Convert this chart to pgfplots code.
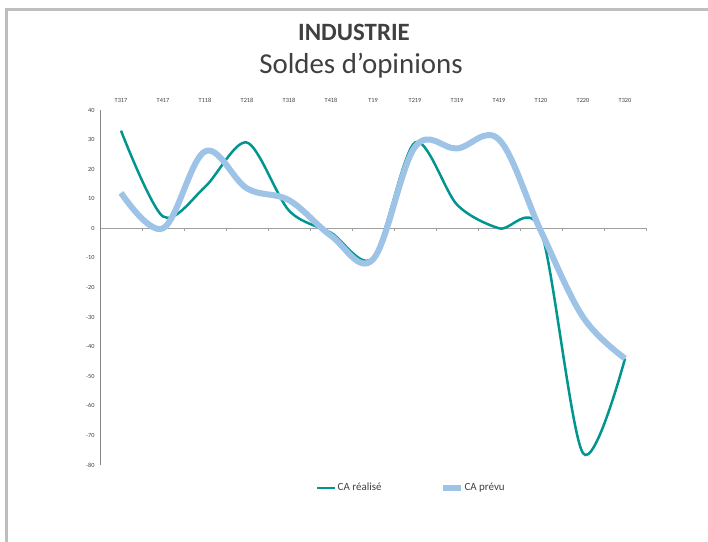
\documentclass[border=0pt]{standalone}
\usepackage{fontspec}
\setmainfont{Carlito}
\usepackage{pgfplots}
\pgfplotsset{compat=1.18}
\definecolor{tealc}{RGB}{0,150,143}
\definecolor{lblue}{RGB}{157,195,230}
\definecolor{txt}{RGB}{64,64,64}
\definecolor{axgray}{RGB}{134,134,134}
\definecolor{zgray}{RGB}{160,160,160}
\definecolor{frame}{RGB}{190,190,190}
\begin{document}
\begin{tikzpicture}[x=1bp,y=1bp]
\path[use as bounding box] (0,0) rectangle (708,542);
\fill[white] (0,0) rectangle (708,542);
\draw[line width=3bp, frame] (6,-5) -- (6,532) -- (713,532);
\node[font=\bfseries\fontsize{25}{30}\selectfont, text=txt] at (354,510) {INDUSTRIE};
\node[font=\fontsize{29}{34}\selectfont, text=txt] at (361,476) {Soldes d’opinions};

\begin{axis}[at={(100bp,77bp)}, anchor=south west, scale only axis,
  width=546bp, height=355bp,
  xmin=-0.5, xmax=12.5, ymin=-80, ymax=40,
  axis x line=middle, axis y line=left,
  axis line style={-},
  x axis line style={zgray, line width=0.8bp},
  y axis line style={axgray, line width=0.8bp},
  xtick={0.5,1.5,...,12.5}, xticklabels={},
  xtick style={zgray, line width=0.6bp},
  tick align=outside, major tick length=3bp,
  ytick={-80,-70,...,40},
  ytick style={draw=none},
  yticklabel style={font=\fontsize{6.3}{7}\selectfont, text=txt, xshift=1bp},
  /pgf/number format/assume math mode=true,
  legend columns=2,
  legend style={at={(0.3956,0)}, anchor=west, yshift=-23bp, draw=none, fill=none,
    inner sep=0pt,
    font=\fontsize{11}{13}\selectfont, text=txt,
    /tikz/every even column/.append style={column sep=57bp},
    nodes={inner xsep=1bp, inner ysep=0pt, text height=8bp, text depth=2.5bp}},
  legend image code/.code={\draw[#1] (0bp,0bp) -- (18bp,0bp);},
  clip=false,
]
\addplot[tealc, line width=2.5bp, smooth, tension=0.5] coordinates {
(0,33) (1,4) (2,14) (3,29) (4,6) (5,-1.5) (6,-10) (7,29) (8,8) (9,0) (10,-1) (11,-76) (12,-44)};
\addlegendentry{CA réalisé}
\addplot[lblue, line width=6bp, smooth, tension=0.6] coordinates {
(0,12) (1,0) (2,26) (3,13.5) (4,9.5) (5,-2.5) (6,-10.5) (7,27.5) (8,27) (9,30) (10,-1) (11,-30) (12,-44)};
\addlegendentry{CA prévu}
\end{axis}

\begin{axis}[at={(100bp,77bp)}, anchor=south west, scale only axis,
  width=546bp, height=355bp,
  xmin=-0.5, xmax=12.5, ymin=-80, ymax=40,
  axis x line*=top, axis y line=none,
  x axis line style={draw=none},
  xtick={0,...,12},
  xticklabels={T317,T417,T118,T218,T318,T418,T19,T219,T319,T419,T120,T220,T320},
  xtick style={draw=none},
  xticklabel style={font=\fontsize{6.3}{7}\selectfont, text=txt, yshift=4bp},
  ytick=\empty,
]
\end{axis}
\end{tikzpicture}
\end{document}
